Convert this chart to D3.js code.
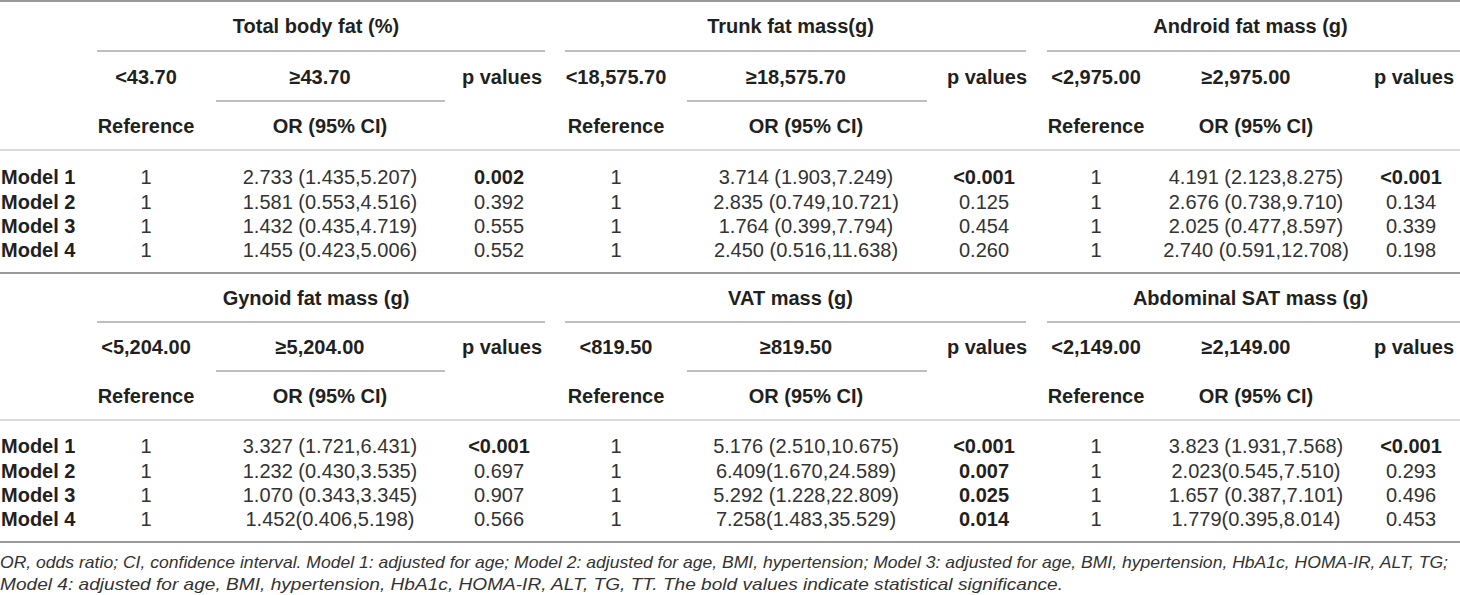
<!DOCTYPE html>
<html>
<head>
<meta charset="utf-8">
<script src="https://cdn.jsdelivr.net/npm/d3@7"></script>
<style>
  body { margin: 0; background: #fff; }
  svg text { font-family: "Liberation Sans", Arial, Helvetica, sans-serif; }
</style>
</head>
<body>
<div id="chart"></div>
<script>
const width = 1460;
const height = 595;

// table content
const groups = ["Total body fat (%)", "Trunk fat mass(g)", "Android fat mass (g)",
  "Gynoid fat mass (g)", "VAT mass (g)", "Abdominal SAT mass (g)"];
const lowCuts = ["<43.70", "<18,575.70", "<2,975.00", "<5,204.00", "<819.50", "<2,149.00"];
const highCuts = ["≥43.70", "≥18,575.70", "≥2,975.00", "≥5,204.00", "≥819.50", "≥2,149.00"];
const models = ["Model 1", "Model 2", "Model 3", "Model 4"];
const refValues = ["1", "1", "1", "1"];
const orValues = [
  ["2.733 (1.435,5.207)", "1.581 (0.553,4.516)", "1.432 (0.435,4.719)", "1.455 (0.423,5.006)"],
  ["3.714 (1.903,7.249)", "2.835 (0.749,10.721)", "1.764 (0.399,7.794)", "2.450 (0.516,11.638)"],
  ["4.191 (2.123,8.275)", "2.676 (0.738,9.710)", "2.025 (0.477,8.597)", "2.740 (0.591,12.708)"],
  ["3.327 (1.721,6.431)", "1.232 (0.430,3.535)", "1.070 (0.343,3.345)", "1.452(0.406,5.198)"],
  ["5.176 (2.510,10.675)", "6.409(1.670,24.589)", "5.292 (1.228,22.809)", "7.258(1.483,35.529)"],
  ["3.823 (1.931,7.568)", "2.023(0.545,7.510)", "1.657 (0.387,7.101)", "1.779(0.395,8.014)"]
];
const pValues = [
  ["0.002", "0.392", "0.555", "0.552"],
  ["<0.001", "0.125", "0.454", "0.260"],
  ["<0.001", "0.134", "0.339", "0.198"],
  ["<0.001", "0.697", "0.907", "0.566"],
  ["<0.001", "0.007", "0.025", "0.014"],
  ["<0.001", "0.293", "0.496", "0.453"]
];
const footnotes = [
  "OR, odds ratio; CI, confidence interval. Model 1: adjusted for age; Model 2: adjusted for age, BMI, hypertension; Model 3: adjusted for age, BMI, hypertension, HbA1c, HOMA-IR, ALT, TG;",
  "Model 4: adjusted for age, BMI, hypertension, HbA1c, HOMA-IR, ALT, TG, TT. The bold values indicate statistical significance."
];

const isSignificant = p => p.startsWith("<") || parseFloat(p) < 0.05;

// column geometry, one block per group position (0,1,2)
const blockSpan = [[97, 545], [565, 1026], [1047, 1460]];
const subSpan = [[216, 445], [687, 927], null];
const colX = d3.scaleOrdinal()
  .domain(["0ref", "0or", "0p", "1ref", "1or", "1p", "2ref", "2or", "2p"])
  .range([146, 330, 502, 616, 806, 987, 1096, 1256, 1414]);

// vertical geometry for the two panels
const panels = [
  { top: 1, title: 26, groupLine: 51, hdr1: 77, subLine: 101, hdr2: 126, hdrLine: 150, rows: [177, 250] },
  { top: 273, title: 298, groupLine: 322, hdr1: 347, subLine: 371, hdr2: 396, hdrLine: 420, rows: [446, 519] }
];
const bottomLine = 542;

const svg = d3.select("#chart")
  .append("svg")
  .attr("width", width)
  .attr("height", height);

const darkLine = "#9a9a9a";
const lightLine = "#a8a8a8";
const fs = 20;

function hline(y, x1, x2, color, w) {
  svg.append("line")
    .attr("x1", x1).attr("x2", x2)
    .attr("y1", y).attr("y2", y)
    .attr("stroke", color)
    .attr("stroke-width", w);
}

function label(x, y, txt, bold, anchor, color) {
  return svg.append("text")
    .attr("x", x)
    .attr("y", y)
    .attr("dy", "0.36em")
    .attr("text-anchor", anchor || "middle")
    .style("font-size", fs + "px")
    .style("font-weight", bold ? "bold" : "normal")
    .attr("fill", color || (bold ? "#231f20" : "#333"))
    .text(txt);
}

panels.forEach((pn, pi) => {
  hline(pn.top, 0, width, darkLine, 2);
  hline(pn.hdrLine, 0, width, "#cfcfcf", 1.5);

  const yRow = d3.scaleLinear()
    .domain([0, models.length - 1])
    .range(pn.rows);

  models.forEach((m, i) => label(1, yRow(i), m, true, "start"));

  [0, 1, 2].forEach(b => {
    const g = pi * 3 + b;
    const [x1, x2] = blockSpan[b];
    label((x1 + x2) / 2 - (b === 2 ? 3 : 5), pn.title, groups[g], true);
    hline(pn.groupLine, x1, x2, lightLine, 1.5);
    if (subSpan[b]) hline(pn.subLine, subSpan[b][0], subSpan[b][1], lightLine, 1.5);

    label(colX(b + "ref"), pn.hdr1, lowCuts[g], true);
    label(colX(b + "or") - 10, pn.hdr1, highCuts[g], true);
    label(colX(b + "p"), pn.hdr1, "p values", true);
    label(colX(b + "ref"), pn.hdr2, "Reference", true);
    label(colX(b + "or"), pn.hdr2, "OR (95% CI)", true);

    models.forEach((m, i) => {
      label(colX(b + "ref"), yRow(i), refValues[i], false);
      label(colX(b + "or"), yRow(i), orValues[g][i], false);
      const p = pValues[g][i];
      label(colX(b + "p") - 3, yRow(i), p, isSignificant(p));
    });
  });
});

hline(bottomLine, 0, width, darkLine, 2);

const footY = [562, 584];
const footLen = [1448, 1063];
footnotes.forEach((t, i) => {
  svg.append("text")
    .attr("x", 0)
    .attr("y", footY[i])
    .attr("dy", "0.34em")
    .attr("textLength", footLen[i])
    .attr("lengthAdjust", "spacingAndGlyphs")
    .style("font-size", "17px")
    .style("font-style", "italic")
    .attr("fill", "#333")
    .text(t);
});
</script>
</body>
</html>
